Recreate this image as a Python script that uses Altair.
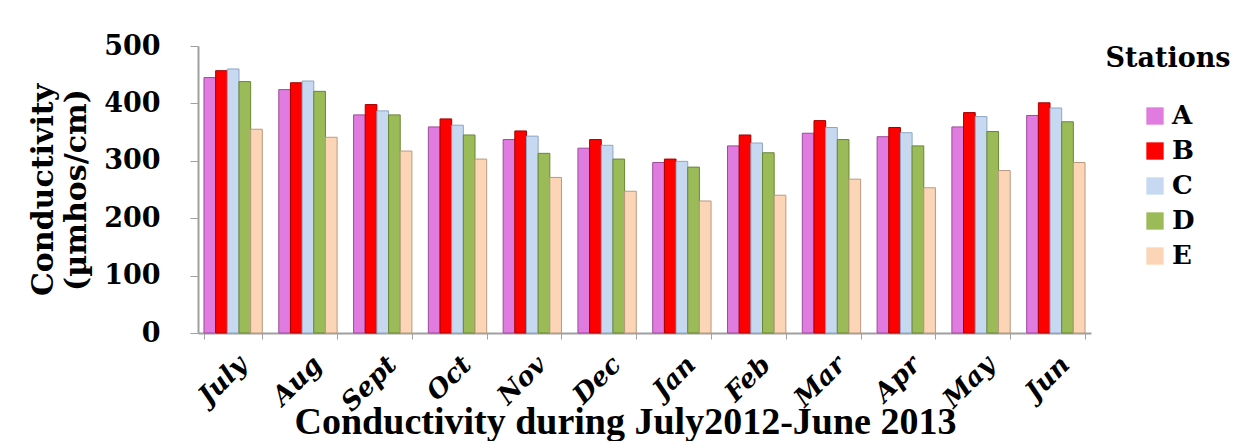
import altair as alt
import pandas as pd

months = ["July", "Aug", "Sept", "Oct", "Nov", "Dec", "Jan", "Feb", "Mar", "Apr", "May", "Jun"]
stations = ["A", "B", "C", "D", "E"]
station_a = [445, 424, 380, 359, 337, 322, 297, 326, 348, 342, 359, 379]
station_b = [457, 436, 398, 373, 352, 337, 303, 345, 370, 358, 384, 401]
station_c = [460, 439, 387, 362, 343, 327, 299, 331, 358, 349, 377, 392]
station_d = [438, 421, 380, 345, 313, 303, 289, 314, 337, 326, 351, 368]
station_e = [355, 341, 317, 303, 271, 247, 230, 240, 268, 253, 283, 297]
colors = ["#E07BE0", "#FF0000", "#C6D9F1", "#9BBB59", "#FBD5B5"]
edges = ["#9A4C9A", "#A80000", "#8EA6C4", "#6A8636", "#B89A80"]

rows = []
for s, vals in zip(stations, [station_a, station_b, station_c, station_d, station_e]):
    for m, v in zip(months, vals):
        rows.append({"month": m, "station": s, "value": v})
df = pd.DataFrame(rows)

serif = "DejaVu Serif"

chart = alt.Chart(df).mark_bar(strokeWidth=1).encode(
    x=alt.X("month:N", sort=months, scale=alt.Scale(paddingInner=0.22, paddingOuter=0.08),
            axis=alt.Axis(title="Conductivity during July2012-June 2013", labelAngle=-45,
                          labelAlign="right", labelBaseline="top", labelFont=serif,
                          labelFontSize=26, labelFontWeight="bold", labelFontStyle="italic",
                          labelColor="black", labelPadding=12, titleFont="Liberation Serif",
                          titleFontSize=38, titleFontWeight="bold", titleColor="black",
                          titleX=427, titleY=100, titleAlign="center", titleBaseline="alphabetic",
                          domainColor="#A0A0A0", domainWidth=2,
                          tickColor="#A0A0A0", tickSize=6, tickBand="extent")),
    xOffset=alt.XOffset("station:N", sort=stations),
    y=alt.Y("value:Q", scale=alt.Scale(domain=[0, 500]),
            axis=alt.Axis(title=["Conductivity", "(µmhos/cm)"], values=[0, 100, 200, 300, 400, 500],
                          labelFont=serif, labelFontSize=27, labelFontWeight="bold",
                          labelColor="black", labelPadding=30, titleFont=serif, titleFontSize=30,
                          titleFontWeight="bold", titleColor="black", titlePadding=12,
                          titleLineHeight=33,
                          grid=False, domainColor="#A0A0A0", domainWidth=2,
                          tickColor="#A0A0A0", tickSize=8)),
    color=alt.Color("station:N", sort=stations, scale=alt.Scale(domain=stations, range=colors),
                    legend=alt.Legend(title="Stations", titleFont=serif, titleFontSize=27,
                                      titleFontWeight="bold", titleColor="black",
                                      titleAnchor="middle",
                                      labelFont=serif, labelFontSize=26, labelFontWeight="bold",
                                      labelColor="black", symbolType="square", symbolSize=300,
                                      symbolStrokeWidth=0, rowPadding=9, titlePadding=30,
                                      offset=14, padding=0)),
    stroke=alt.Stroke("station:N", sort=stations, scale=alt.Scale(domain=stations, range=edges),
                      legend=None),
).properties(
    width=893, height=287, padding={"top": 24, "left": 20, "right": 2, "bottom": 0}
).configure_view(stroke=None)

chart.save("out.html", embed_options={"renderer": "svg", "actions": False})
